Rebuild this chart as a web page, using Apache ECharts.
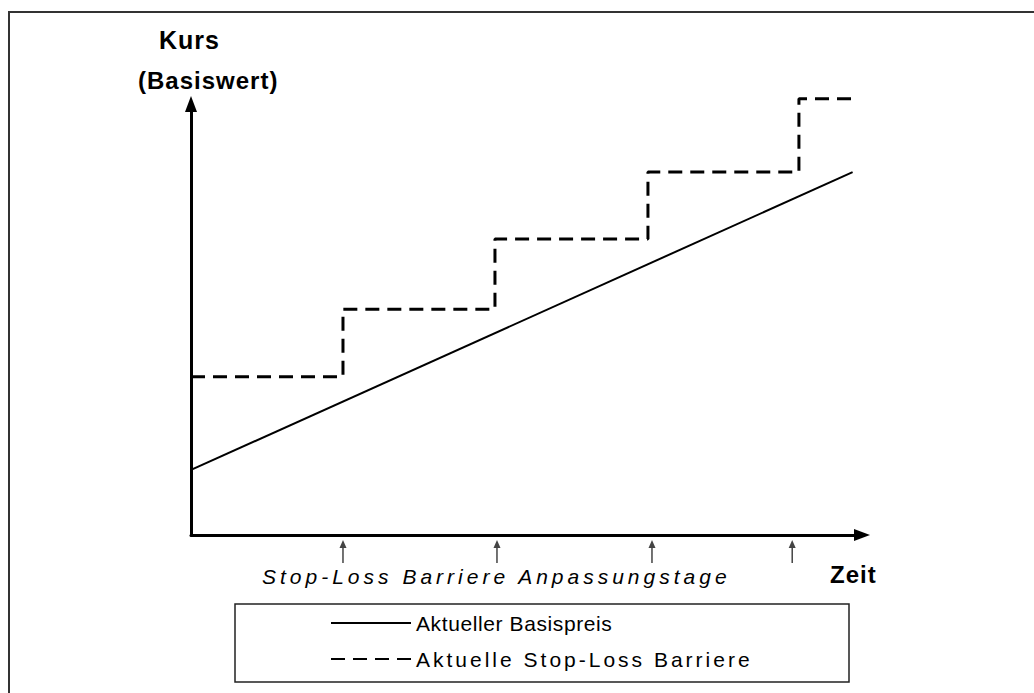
<!DOCTYPE html>
<html>
<head>
<meta charset="utf-8">
<script src="https://cdn.jsdelivr.net/npm/echarts@6/dist/echarts.min.js"></script>
<style>
  html, body { margin: 0; padding: 0; background: #fff; }
  #chart { width: 1034px; height: 693px; }
  #chart text { letter-spacing: 0.6px; }
  #chart text[style*="500"] { letter-spacing: 3px; }
  #chart text[style*="italic"] { letter-spacing: 4px; }
  #chart text[style*="bold"] { letter-spacing: 1px; }
</style>
</head>
<body>
<div id="chart"></div>
<script>
  // Zeit (0..100) / Kurs (0..100)
  const seriesNames = ['Aktueller Basispreis', 'Aktuelle Stop-Loss Barriere'];
  const priceTime = [0, 98.6];
  const priceLevel = [15.1, 84.2];
  const barrierTime = [0, 22.65, 45.3, 68.1, 90.6, 98.6];
  const barrierLevel = [36.7, 52.4, 68.7, 84.2, 101.2, 101.2];
  const adjustDays = [22.65, 45.6, 68.7, 89.6];

  const FONT = "'Liberation Sans', Arial, sans-serif";

  const chart = echarts.init(document.getElementById('chart'), null, { renderer: 'svg' });

  const axisCommon = {
    type: 'value',
    min: 0,
    max: 100,
    axisLine: {
      show: true,
      symbol: ['none', 'triangle'],
      symbolSize: [12, 16],
      lineStyle: { color: '#000', width: 3 }
    },
    axisTick: { show: false },
    axisLabel: { show: false },
    splitLine: { show: false }
  };

  const option = {
    backgroundColor: '#fff',
    animation: false,
    color: ['#000', '#000'],
    grid: { left: 191, right: 172, top: 104, bottom: 158 },
    xAxis: axisCommon,
    yAxis: axisCommon,
    legend: {
      orient: 'vertical',
      left: 330,
      top: 610,
      padding: 0,
      itemWidth: 80,
      itemHeight: 14,
      itemGap: 10,
      data: [
        { name: seriesNames[0] },
        { name: seriesNames[1], textStyle: { fontWeight: 500 } }
      ],
      itemStyle: { opacity: 0 },
      textStyle: { fontFamily: FONT, fontSize: 21, lineHeight: 26, color: '#000' }
    },
    series: [
      {
        name: seriesNames[0],
        type: 'line',
        symbol: 'none',
        clip: false,
        data: priceTime.map((t, i) => [t, priceLevel[i]]),
        lineStyle: { color: '#000', width: 2 }
      },
      {
        name: seriesNames[1],
        type: 'line',
        symbol: 'none',
        step: 'end',
        clip: false,
        data: barrierTime.map((t, i) => [t, barrierLevel[i]]),
        lineStyle: { color: '#000', width: 3, type: [14, 8] }
      },
      {
        type: 'custom',
        clip: false,
        silent: true,
        data: adjustDays.map(d => [d]),
        renderItem: function (params, api) {
          const p = api.coord([api.value(0), 0]);
          const x = p[0], top = p[1] + 5, bottom = p[1] + 28;
          return {
            type: 'group',
            children: [
              { type: 'line', shape: { x1: x, y1: top + 6, x2: x, y2: bottom }, style: { stroke: '#444', lineWidth: 1.5 } },
              { type: 'polygon', shape: { points: [[x, top], [x - 3.5, top + 8], [x + 3.5, top + 8]] }, style: { fill: '#444' } }
            ]
          };
        }
      }
    ],
    graphic: [
      { type: 'rect', shape: { x: 9, y: 12, width: 1040, height: 700 }, style: { fill: 'none', stroke: '#333', lineWidth: 2 }, silent: true },
      { type: 'rect', shape: { x: 235, y: 604, width: 614, height: 78 }, style: { fill: 'none', stroke: '#222', lineWidth: 1.5 }, silent: true },
      { type: 'text', left: 159, top: 27, style: { text: 'Kurs', font: 'bold 25px ' + FONT, fill: '#000' } },
      { type: 'text', left: 138, top: 68, style: { text: '(Basiswert)', font: 'bold 24px ' + FONT, fill: '#000' } },
      { type: 'text', left: 262, top: 566, style: { text: 'Stop-Loss Barriere Anpassungstage', font: 'italic 21px ' + FONT, fill: '#000' } },
      { type: 'text', left: 830, top: 562, style: { text: 'Zeit', font: 'bold 24px ' + FONT, fill: '#000' } }
    ]
  };

  chart.setOption(option);
</script>
</body>
</html>
